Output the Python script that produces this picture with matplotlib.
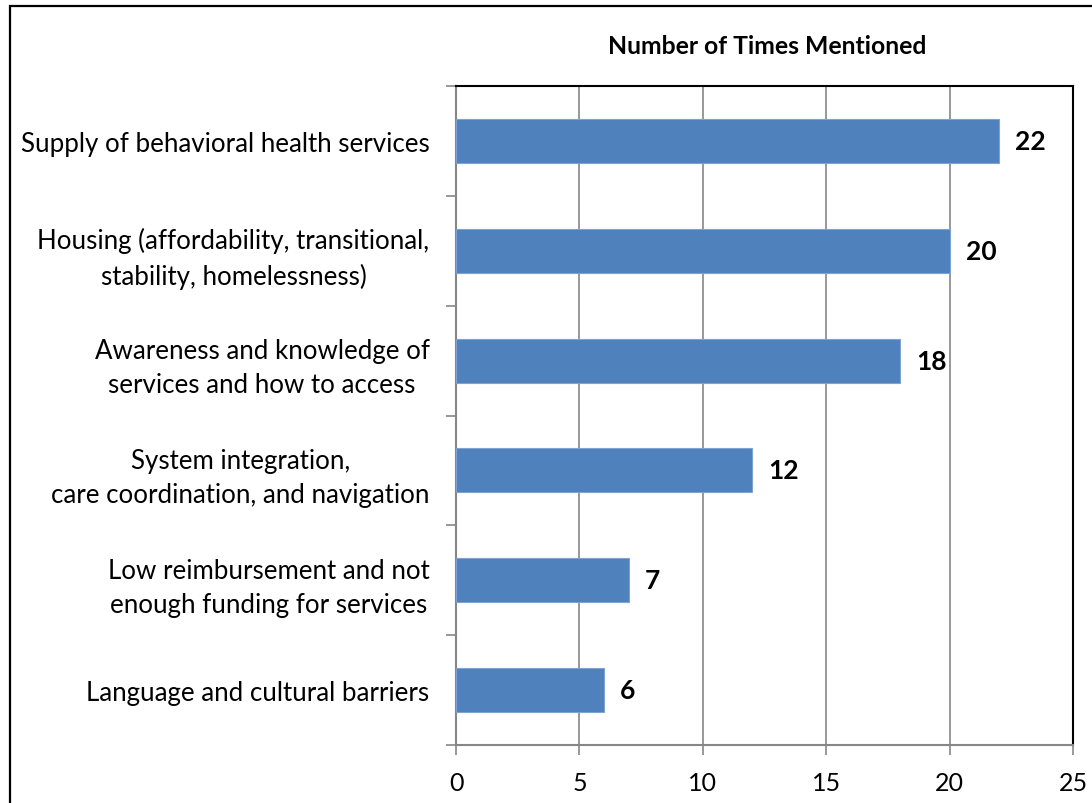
import matplotlib
matplotlib.use("Agg")
import matplotlib.pyplot as plt
from matplotlib.patches import Rectangle
import numpy as np

categories = [
    "Supply of behavioral health services",
    "Housing (affordability, transitional,\nstability, homelessness)",
    "Awareness and knowledge of\nservices and how to access",
    "System integration,\ncare coordination, and navigation",
    "Low reimbursement and not\nenough funding for services",
    "Language and cultural barriers",
]
mentions = [22, 20, 18, 12, 7, 6]
x_ticks = [0, 5, 10, 15, 20, 25]
title = "Number of Times Mentioned"

plt.rcParams["font.family"] = ["Lato", "DejaVu Sans"]

W, H = 1092, 804
fig = plt.figure(figsize=(W / 100, H / 100), dpi=100)
ax = fig.add_axes([456 / W, (H - 746) / H, (1073 - 456) / W, (746 - 87) / H])

bar_color = "#4F81BD"
grid_color = "#868686"
y = np.arange(len(categories))
ax.barh(y, mentions, height=0.4, color=bar_color, edgecolor="#7FA3D0",
        linewidth=0.8, zorder=3)

for yi, v in zip(y, mentions):
    ax.annotate(str(v), (v, yi), xytext=(16, 0), textcoords="offset pixels",
                ha="left", va="center", fontsize=19, fontweight="bold",
                color="black", zorder=4)

ax.set_xlim(0, 25)
ax.set_ylim(len(categories) - 0.5, -0.5)
ax.set_xticks(x_ticks)
ax.set_xticklabels([str(t) for t in x_ticks], fontsize=18)
ax.set_yticks(y)
ax.set_yticklabels(categories, fontsize=18.6, multialignment="center",
                   linespacing=1.45)
ax.set_yticks(np.arange(len(categories) + 1) - 0.5, minor=True)

ax.xaxis.grid(True, color=grid_color, linewidth=1.2, zorder=0)
ax.set_axisbelow(True)

ax.tick_params(axis="y", which="major", length=0, pad=19)
ax.tick_params(axis="y", which="minor", length=7, width=1.2, color=grid_color)
ax.tick_params(axis="x", which="major", length=7, width=1.2, color=grid_color,
               pad=12)

for side in ("left", "bottom"):
    ax.spines[side].set_color(grid_color)
    ax.spines[side].set_linewidth(1.5)
for side in ("top", "right"):
    ax.spines[side].set_color("black")
    ax.spines[side].set_linewidth(1.5)

fig.text(767 / W, 1 - 46 / H, title, ha="center", va="center",
         fontsize=17.8, fontweight="bold")

# outer chart border, running off the right and bottom edges
fig.patches.append(Rectangle((10 / W, -0.1), 1.2, 1.1 - 7 / H,
                             transform=fig.transFigure, fill=False,
                             edgecolor="black", linewidth=1.6))

fig.savefig("out.png", dpi=100)
